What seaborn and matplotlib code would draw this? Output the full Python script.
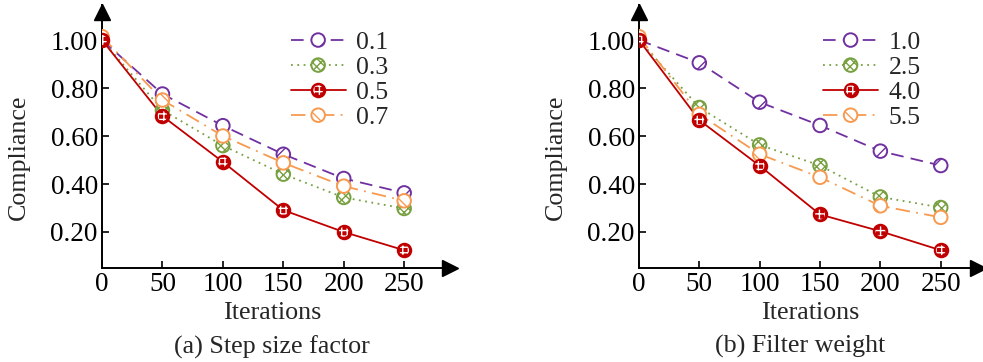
"""
Compliance vs. iterations for two parameter sweeps: (a) step size factor, (b) filter weight
"""
import numpy as np
import pandas as pd
import matplotlib
matplotlib.use('Agg')
import matplotlib.pyplot as plt
import seaborn as sns
from matplotlib.legend_handler import HandlerTuple

sns.set_style('ticks')
plt.rcParams['font.family'] = ['Liberation Serif', 'DejaVu Serif']

ITERATIONS = [0, 50, 100, 150, 200, 250]

# (a) step size factor
STEP_LABELS = ['0.1', '0.3', '0.5', '0.7']
STEP_01 = [1.00, 0.775, 0.643, 0.524, 0.423, 0.363]
STEP_03 = [1.00, 0.708, 0.560, 0.441, 0.344, 0.298]
STEP_05 = [1.00, 0.683, 0.492, 0.291, 0.200, 0.124]
STEP_07 = [1.014, 0.750, 0.600, 0.488, 0.391, 0.330]

# (b) filter weight
FILTER_LABELS = ['1.0', '2.5', '4.0', '5.5']
FILTER_10 = [1.00, 0.905, 0.741, 0.644, 0.537, 0.477]
FILTER_25 = [1.00, 0.719, 0.563, 0.477, 0.346, 0.302]
FILTER_40 = [1.00, 0.666, 0.476, 0.273, 0.203, 0.124]
FILTER_55 = [1.014, 0.690, 0.524, 0.428, 0.309, 0.261]

COLORS = ['#7030A0', '#77A040', '#C00000', '#F79A50']
DASHES = [(7, 4), (1, 2.5), '', (8, 3.5, 1, 3.5)]
HATCHES = ['/', 'xxxx', '+', '\\']
YTICKS = [0.20, 0.40, 0.60, 0.80, 1.00]

TICK_FS = 19.5
LABEL_FS = 18.7
LEGEND_FS = 18.5


def make_frame(labels, series):
    rows = []
    for lab, vals in zip(labels, series):
        for x, y in zip(ITERATIONS, vals):
            rows.append({'Iterations': x, 'Compliance': y, 'case': lab})
    return pd.DataFrame(rows)


def draw_panel(ax, labels, series, caption, xmax, lx, cx, yx):
    df = make_frame(labels, series)
    sns.lineplot(data=df, x='Iterations', y='Compliance', hue='case', style='case',
                 palette=dict(zip(labels, COLORS)), dashes=dict(zip(labels, DASHES)),
                 linewidth=1.3, legend=False, ax=ax, zorder=2)
    lines = list(ax.get_lines())

    handles = []
    for i, (lab, vals) in enumerate(zip(labels, series)):
        col = COLORS[i]
        if i == 2:
            s1 = ax.scatter(ITERATIONS, vals, s=95, facecolor=col, edgecolor=col,
                            linewidth=1.4, zorder=4)
            s2 = ax.scatter(ITERATIONS, vals, s=50, facecolor='none', edgecolor='white',
                            linewidth=0, hatch='+++', zorder=5)
            handles.append((lines[i], s1, s2))
        else:
            s1 = ax.scatter(ITERATIONS, vals, s=95, facecolor='white', edgecolor=col,
                            linewidth=1.4, hatch=HATCHES[i], zorder=3 + i * 0.1)
            handles.append((lines[i], s1))

    ax.legend(handles, labels, handler_map={tuple: HandlerTuple(ndivide=1)},
              loc='upper left', bbox_to_anchor=(0.505, 0.94), frameon=False,
              fontsize=LEGEND_FS, handlelength=2.15, handletextpad=0.4, labelspacing=0.08,
              borderaxespad=0, scatteryoffsets=[0.5])

    ax.set_xlim(0, xmax)
    ax.set_ylim(0.05, 1.146)
    ax.set_xticks(ITERATIONS)
    ax.set_yticks(YTICKS)
    ax.set_yticklabels([f'{v:.2f}' for v in YTICKS])
    ax.tick_params(direction='in', length=5, width=1.2, labelsize=TICK_FS, pad=3,
                   colors='black')
    sns.despine(ax=ax)
    for sp in ['left', 'bottom']:
        ax.spines[sp].set_linewidth(1.4)
        ax.spines[sp].set_color('black')

    # arrow heads on the axes
    ax.plot(0.985, 0, marker='>', color='black', markersize=11, transform=ax.transAxes,
            clip_on=False, zorder=6)
    ax.plot(0, 0.975, marker='^', color='black', markersize=11, transform=ax.transAxes,
            clip_on=False, zorder=6)

    ax.set_xlabel('Iterations', fontsize=LABEL_FS)
    ax.set_ylabel('Compliance', fontsize=LABEL_FS)
    ax.xaxis.set_label_coords(lx, -0.13)
    ax.yaxis.set_label_coords(yx, 0.42)
    ax.text(cx, -0.30, caption, transform=ax.transAxes, ha='center', va='center',
            fontsize=LABEL_FS)


fig = plt.figure(figsize=(9.83, 3.62), dpi=100)
ax1 = fig.add_axes([0.1038, 0.2597, 0.359, 0.7265])
ax2 = fig.add_axes([0.650, 0.2597, 0.350, 0.7265])

draw_panel(ax1, STEP_LABELS, [STEP_01, STEP_03, STEP_05, STEP_07],
           '(a) Step size factor', 292, 0.482, 0.482, -0.204)
draw_panel(ax2, FILTER_LABELS, [FILTER_10, FILTER_25, FILTER_40, FILTER_55],
           '(b) Filter weight', 285, 0.497, 0.468, -0.209)

fig.savefig('out.png', dpi=100)
